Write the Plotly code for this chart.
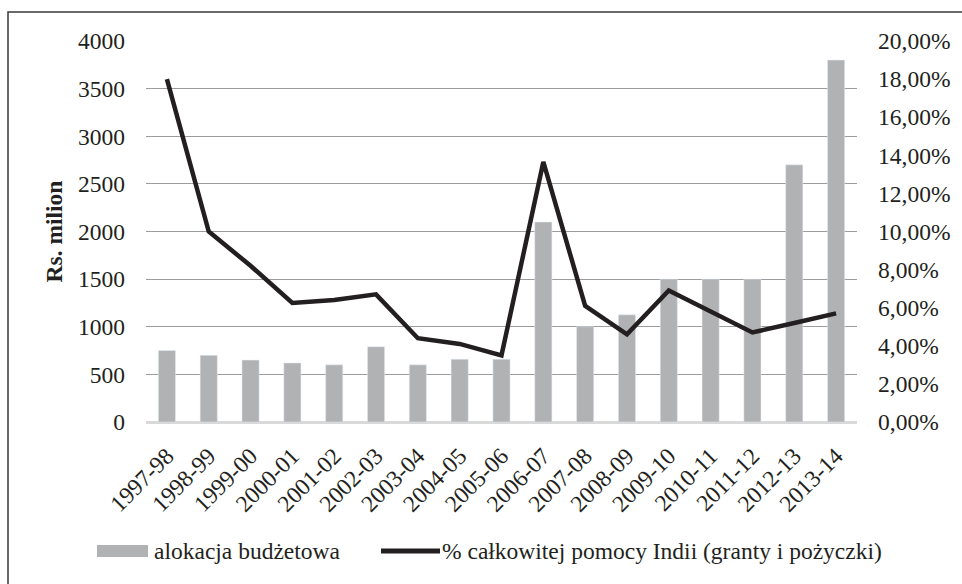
import plotly.graph_objects as go

years = ["1997-98", "1998-99", "1999-00", "2000-01", "2001-02", "2002-03", "2003-04",
         "2004-05", "2005-06", "2006-07", "2007-08", "2008-09", "2009-10", "2010-11",
         "2011-12", "2012-13", "2013-14"]
budget = [750, 700, 650, 620, 600, 790, 600, 660, 660, 2100, 1000, 1125, 1500, 1500,
          1500, 2700, 3800]
share_pct = [18.0, 10.0, 8.2, 6.25, 6.4, 6.7, 4.4, 4.1, 3.5, 13.65, 6.1, 4.6, 6.9, 5.8,
             4.7, 5.2, 5.7]
left_ticks = [0, 500, 1000, 1500, 2000, 2500, 3000, 3500, 4000]
right_ticks = [0, 0.02, 0.04, 0.06, 0.08, 0.10, 0.12, 0.14, 0.16, 0.18, 0.20]

name_bar = "alokacja budżetowa"
name_line = "% całkowitej pomocy Indii (granty i pożyczki)"

BAR_COLOR = "#b1b2b4"
LINE_COLOR = "#231f20"
FONT = "Liberation Serif"
FS = 23.5

# plot area in pixels (for legend / frame placement)
L, R, T, B = 146, 857, 41, 422
W, H = R - L, B - T


def px(x):
    return (x - L) / W


def py(y):
    return (B - y) / H


fig = go.Figure()
fig.add_trace(go.Bar(x=years, y=budget, name=name_bar, marker_color=BAR_COLOR,
                     width=0.41, yaxis="y", showlegend=False))
fig.add_trace(go.Scatter(x=years, y=[v / 100 for v in share_pct], name=name_line,
                         mode="lines", line=dict(color=LINE_COLOR, width=4.5),
                         yaxis="y2", showlegend=False))

shapes = [
    # outer frame
    dict(type="rect", xref="paper", yref="paper", x0=px(8), x1=px(975), y0=py(600), y1=py(12),
         line=dict(color="#3a3a3a", width=1.5), fillcolor="rgba(0,0,0,0)", layer="below"),
    # legend icons
    dict(type="rect", xref="paper", yref="paper", x0=px(97), x1=px(148), y0=py(557), y1=py(545),
         line=dict(width=0), fillcolor=BAR_COLOR),
    dict(type="line", xref="paper", yref="paper", x0=px(381), x1=px(440), y0=py(551), y1=py(551),
         line=dict(color=LINE_COLOR, width=5)),
]
annotations = [
    dict(text=name_bar, xref="paper", yref="paper", x=px(152), y=py(551), xanchor="left",
         yanchor="middle", showarrow=False, font=dict(family=FONT, size=FS, color=LINE_COLOR)),
    dict(text=name_line, xref="paper", yref="paper", x=px(440), y=py(551), xanchor="left",
         yanchor="middle", showarrow=False, font=dict(family=FONT, size=FS, color=LINE_COLOR)),
]

fig.update_layout(
    width=962, height=584,
    margin=dict(l=L, r=962 - R, t=T, b=584 - B),
    paper_bgcolor="white", plot_bgcolor="white",
    font=dict(family=FONT, size=FS, color=LINE_COLOR),
    separators=",.",
    bargap=0.59,
    shapes=shapes,
    annotations=annotations,
    xaxis=dict(type="category", tickangle=-45, showgrid=False, showline=True,
               linecolor="#d9d9d9", linewidth=2, ticks="", tickfont=dict(size=FS),
               ticklabelstandoff=9),
    yaxis=dict(range=[0, 4000.5], tickvals=left_ticks, showgrid=True, gridcolor="#9c9c9c",
               gridwidth=1.2, zeroline=True, zerolinecolor="#d9d9d9", zerolinewidth=2,
               ticks="", ticklabelstandoff=20,
               title=dict(text="<b>Rs. milion</b>", font=dict(size=FS), standoff=8)),
    yaxis2=dict(range=[0, 0.2], tickvals=right_ticks, tickformat=".2%", overlaying="y",
                side="right", showgrid=False, zeroline=False, ticks="", ticklabelstandoff=20),
)

fig.write_html("out.html", config={"displayModeBar": False},
               post_script="document.body.style.margin='0';document.body.style.overflow='hidden';")
